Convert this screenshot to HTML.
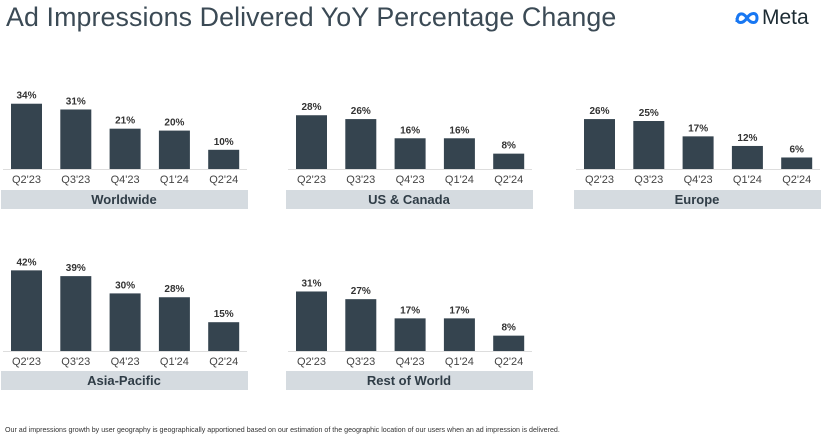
<!DOCTYPE html>
<html><head><meta charset="utf-8"><style>
body{margin:0;width:832px;height:444px;background:#fff;overflow:hidden;font-family:"Liberation Sans",sans-serif;position:relative}
#title{position:absolute;left:6px;top:2px;font-size:26.8px;color:#3b4a55;letter-spacing:0.1px}
#logo{position:absolute;left:734px;top:6px;font-size:21px;color:#1c2b33;display:flex;align-items:center;gap:2px}
#foot{position:absolute;left:5px;top:426px;font-size:7.1px;color:#333}
</style></head><body>
<div id="title">Ad Impressions Delivered YoY Percentage Change</div>
<div id="logo"><svg width="26" height="16" viewBox="0 0 26 16"><path d="M3 12 C3 2 9 2 13 8 C17 14 23 14 23 8 C23 2 17 2 13 8 C9 14 3 14 3 8" fill="none" stroke="#1877f2" stroke-width="3"/></svg><span>Meta</span></div>
<svg id="chart" width="832" height="444" style="position:absolute;left:0;top:0"></svg>
<div id="foot">Our ad impressions growth by user geography is geographically apportioned based on our estimation of the geographic location of our users when an ad impression is delivered.</div>
<script>
const categories=["Q2'23","Q3'23","Q4'23","Q1'24","Q2'24"];
const regions=["Worldwide","US & Canada","Europe","Asia-Pacific","Rest of World"];
const worldwide=[34,31,21,20,10];
const usCanada=[28,26,16,16,8];
const europe=[26,25,17,12,6];
const asiaPacific=[42,39,30,28,15];
const restOfWorld=[31,27,17,17,8];
const series=[worldwide,usCanada,europe,asiaPacific,restOfWorld];
const NS="http://www.w3.org/2000/svg";
const svg=document.getElementById('chart');
function mk(t,a){const e=document.createElementNS(NS,t);for(const k in a)e.setAttribute(k,a[k]);svg.appendChild(e);return e;}
const scale=1.92;
series.forEach((vals,p)=>{
  const ox=[0,285,573][p%3], base=p<3?169:351, lblY=p<3?190:371;
  const g=mk('g',{});
  
  
  vals.forEach((v,i)=>{
    const x=ox+11+i*49.3, h=v*scale;
    const r=mk('rect',{x:x,y:base-h,width:31,height:h,fill:'#35444f'});
    
    
    const t=mk('text',{x:x+15.5,y:base-h-5,'text-anchor':'middle','font-size':'10','font-weight':'bold',fill:'#333'});
    t.textContent=v+'%';
    
    
    const c=mk('text',{x:x+15.5,y:base+14,'text-anchor':'middle','font-size':'11',fill:'#444'});
    c.textContent=categories[i];
    
    
  });
  const ax=mk('line',{x1:ox+3,x2:ox+247,y1:base+0.5,y2:base+0.5,stroke:'#ddd','stroke-width':1});
  
  
  const lb=mk('rect',{x:ox+1,y:lblY,width:247,height:19,fill:'#d5dbe0'});
  
  
  const lt=mk('text',{x:ox+124,y:lblY+14,'text-anchor':'middle','font-size':'13','font-weight':'bold',fill:'#2f3c46'});
  lt.textContent=regions[p];
  
  
});
</script>
</body></html>
